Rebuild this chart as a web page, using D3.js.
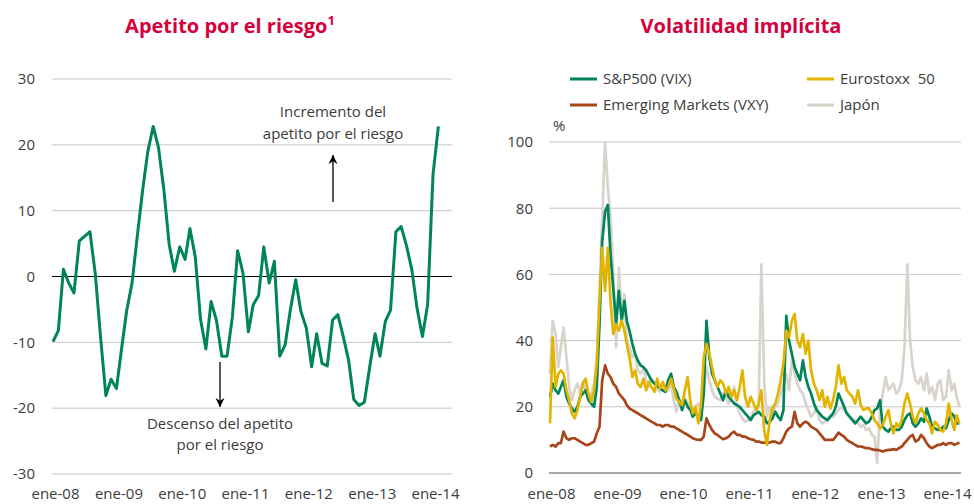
<!DOCTYPE html>
<html>
<head>
<meta charset="utf-8">
<script src="https://cdn.jsdelivr.net/npm/d3@7"></script>
<style>
  body { margin: 0; background: #fff; }
  svg text { font-family: "Open Sans", "Noto Sans", sans-serif; }
</style>
</head>
<body>
<div class="visContainer"></div>
<script>
// Apetito por el riesgo, monthly from ene-08 to feb-14.
const apetito = [
  -9.9, -8.2, 1.1, -1.0, -2.5, 5.4, 6.1, 6.8, 0.4, -9.1,
  -18.1, -15.6, -17.0, -10.7, -5.2, -1.0, 6.1, 13.1, 19.0, 22.8,
  19.5, 13.3, 4.9, 0.8, 4.5, 2.6, 7.3, 2.9, -6.5, -11.0,
  -3.8, -6.7, -12.1, -12.1, -6.1, 3.9, 0.5, -8.4, -4.3, -2.9,
  4.5, -1.0, 2.3, -12.1, -10.4, -5.1, -0.5, -5.3, -7.8, -13.7,
  -8.7, -13.2, -13.6, -6.6, -5.8, -9.1, -12.7, -18.7, -19.6, -19.1,
  -13.7, -8.7, -12.1, -6.8, -5.1, 6.8, 7.6, 4.7, 1.0, -4.8,
  -9.1, -4.3, 15.5, 22.8
];

// Volatilidad implicita, twice a month (day 1 and 16) from ene-08 to mar-14.
const vix = [
  23, 27, 25, 24, 26, 28, 23, 21, 19.5, 18.5,
  20, 23, 24, 25, 22, 21, 20, 26, 45, 70,
  79, 81, 66, 56, 45, 55, 46, 52, 46, 43,
  39, 36, 34, 32.5, 32, 31, 29.5, 28, 27, 26.5,
  25.5, 25, 24.5, 28, 30, 26, 24.5, 22, 19, 22,
  20, 19, 17, 18, 17, 16, 24, 46, 35, 30,
  28, 26, 24, 22, 25, 23, 22, 21, 20.5, 20,
  19, 18, 17, 16, 17.5, 18, 18.5, 17.5, 17, 15,
  15.5, 16.5, 18.5, 17, 16, 19, 47.5, 40, 36, 32,
  30, 28, 34, 29, 26, 24, 21, 19, 18, 17,
  16.5, 16, 17, 18, 20, 24, 22, 20, 18, 17,
  16, 15, 16, 17, 16, 15, 15.5, 17, 19, 19.5,
  22, 14, 13, 12.5, 13.5, 14, 13, 13, 14, 16,
  17.5, 18, 15, 14, 15, 16.5, 15.5, 19.5, 17, 14,
  13.5, 13, 13, 14, 13.5, 16, 18, 17, 15, 15
];
const eurostoxx = [
  15, 41, 26, 30, 31, 30, 25, 22, 18, 16.5,
  19, 23, 27, 28.5, 24, 21.5, 25, 33, 52, 68,
  55, 68, 52, 42, 45, 43, 46, 43, 39, 35,
  29, 31, 27, 26, 28.5, 25, 27.5, 26, 24.5, 28.5,
  25.5, 27.5, 25, 26, 28.5, 25.5, 22.5, 21.5, 20.5, 25,
  29, 21.5, 18, 20, 15, 21, 35, 39, 36, 32,
  28, 26, 28, 27, 24, 26, 23, 25, 22, 26,
  31, 23, 20, 23, 21, 19, 21, 25, 13, 8.5,
  16, 19.5, 21, 24, 28, 33, 43, 41, 46, 48,
  40, 38, 42, 36, 40, 31, 27, 25, 22, 25,
  20, 23, 19.5, 22, 26, 32.5, 27, 29, 25, 24,
  23, 21, 25, 20.5, 19, 19.5, 19.5, 18, 16, 15,
  13.5, 14.5, 17, 19, 15, 12, 15, 14, 16, 21,
  24, 21, 17, 15, 18, 19.5, 18, 16, 15, 12,
  15.5, 14.5, 13, 12.5, 15, 21, 16, 13, 17.5, 15
];
const vxy = [
  8, 8.5, 8, 9, 9, 12.5, 10.5, 10, 10.5, 10.5,
  10, 9.5, 9, 8.5, 8.5, 9, 9.5, 12, 14, 28,
  32.5, 30, 29, 27, 26, 24, 23, 22, 20.5, 19.5,
  19, 18.5, 18, 17.5, 17, 16.5, 16, 15.5, 15, 14.5,
  14.5, 14, 14.5, 14.5, 14, 14, 13.5, 13, 12.5, 12,
  11.5, 11, 10.5, 10.2, 10, 10, 11, 16.5, 14.5, 13,
  12, 11.5, 10.8, 10.2, 10.5, 11, 12, 12.5, 11.5, 11.5,
  11, 11, 10.5, 10.2, 10, 9.5, 9.5, 9.2, 9.2, 9.2,
  9.2, 9.5, 9.5, 9, 9, 10.5, 12.5, 13.5, 14, 18.5,
  15, 14, 15, 15.5, 15, 14, 13.5, 13, 12, 11,
  10, 10, 10, 10, 11, 12.2, 11.5, 11, 10, 9.5,
  9, 8.5, 8, 8, 7.8, 7.5, 7.5, 7.2, 7, 7,
  6.8, 6.5, 6.8, 7, 7, 7.2, 7, 7.5, 8, 9,
  10, 11, 11.5, 9.5, 10, 11.5, 10.5, 9, 8, 7.5,
  8, 8.5, 8.5, 9, 8.5, 9, 9, 8.5, 8.8, 9.2
];
const japon = [
  30, 46, 42, 32, 38, 44, 35, 26, 22, 25,
  27, 24, 27.5, 25, 23, 24, 27, 35, 55, 77,
  100, 86, 78, 60, 38, 62, 48, 54, 40, 38,
  35, 36, 31, 30, 31.5, 28, 26, 28.5, 27, 25.5,
  24.5, 27.5, 26, 25, 27.5, 22, 18.5, 22.5, 20.5, 23,
  21, 19.5, 18, 20, 21, 18, 25, 32, 28, 25,
  23, 22.5, 22, 24, 23, 21, 23, 26, 20, 18,
  16.5, 15.5, 16, 17, 18.5, 19.5, 20, 63, 27, 17,
  20, 18, 20, 21, 24, 27, 30, 25, 34, 30,
  27, 25, 24, 21, 19, 17, 18, 20, 16, 15,
  15.5, 16, 17.5, 17, 18, 19, 20, 19, 18, 17,
  16.5, 16, 15, 14, 14.5, 13, 13.5, 11.5, 11, 3,
  19, 24, 29, 25, 26, 27, 24, 25, 28, 38,
  63, 40, 32, 28, 27, 29, 25, 30, 24, 26,
  22, 27, 28, 22, 23, 31, 25, 27, 23, 20
];

const ticksLeft = [-30, -20, -10, 0, 10, 20, 30];
const ticksRight = [0, 20, 40, 60, 80, 100];
const years = [2008, 2009, 2010, 2011, 2012, 2013, 2014];

const seriesRight = [
  { name: 'Japón', values: japon, color: '#d8d3cb' },
  { name: 'Emerging Markets (VXY)', values: vxy, color: '#a6461a' },
  { name: 'S&P500 (VIX)', values: vix, color: '#00845a' },
  { name: 'Eurostoxx\u00a0\u00a050', values: eurostoxx, color: '#e2b400' }
];

// SVG constants.
const width = 974;
const height = 504;
const red = '#d5003c';
const txt = '#3c3c3c';
const tickLabel = y => 'ene-' + String(y).slice(2);

const svg = d3.select('.visContainer')
              .append('svg')
              .attr('width', width)
              .attr('height', height);

svg.append('defs').append('marker')
   .attr('id', 'arrow')
   .attr('viewBox', '0 0 10 10')
   .attr('refX', 10).attr('refY', 5)
   .attr('markerUnits', 'userSpaceOnUse')
   .attr('markerWidth', 9).attr('markerHeight', 14)
   .attr('orient', 'auto')
   .append('path')
   .attr('d', 'M0,0 L10,5 L0,10 L3,5 Z')
   .attr('fill', '#000');

// ---------- Left: Apetito por el riesgo ----------
const xL = d3.scaleTime().domain([new Date(2008, 0, 1), new Date(2014, 0, 1)]).range([53, 433]);
const yL = d3.scaleLinear().domain([-30, 30]).range([474, 79]);

svg.append('text')
   .attr('x', 230).attr('y', 33)
   .attr('text-anchor', 'middle')
   .attr('font-size', '20px').attr('font-weight', 'bold')
   .attr('fill', red)
   .text('Apetito por el riesgo')
   .append('tspan')
   .attr('dy', -8).attr('font-size', '13px')
   .text('1');

const left = svg.append('g');
left.selectAll('line.grid')
    .data(ticksLeft)
    .join('line')
    .attr('class', 'grid')
    .attr('x1', 52).attr('x2', 452)
    .attr('y1', d => yL(d)).attr('y2', d => yL(d))
    .attr('stroke', d => d === 0 ? '#000' : '#c6c6c6')
    .attr('stroke-width', d => d === 0 ? 1.2 : 1);

left.append('g')
    .attr('transform', 'translate(52,0)')
    .call(d3.axisLeft(yL).tickValues(ticksLeft).tickSize(0).tickPadding(17).tickFormat(d => String(d)))
    .call(g => g.select('.domain').remove())
    .call(g => g.selectAll('text').attr('font-size', 15).attr('fill', txt)
                .attr('font-family', '"Open Sans", sans-serif'));

left.append('g')
    .attr('transform', 'translate(2,499)')
    .call(d3.axisBottom(xL).tickValues(years.map(y => new Date(y, 0, 1)))
            .tickSize(0).tickPadding(0).tickFormat(d => tickLabel(d.getFullYear())))
    .call(g => g.select('.domain').remove())
    .call(g => g.selectAll('text').attr('dy', 0).attr('font-size', 15).attr('fill', txt)
                .attr('font-family', '"Open Sans", sans-serif'));

left.append('path')
    .datum(apetito)
    .attr('fill', 'none')
    .attr('stroke', '#00845a')
    .attr('stroke-width', 3)
    .attr('stroke-linejoin', 'round')
    .attr('d', d3.line().x((d, i) => xL(new Date(2008, i, 1))).y(d => yL(d)));

// annotations
const noteUp = left.append('text').attr('text-anchor', 'middle').attr('font-size', 15).attr('fill', txt);
noteUp.append('tspan').attr('x', 333).attr('y', 117).text('Incremento del');
noteUp.append('tspan').attr('x', 333).attr('y', 139).text('apetito por el riesgo');
left.append('line')
    .attr('x1', 333).attr('x2', 333).attr('y1', 202).attr('y2', 155)
    .attr('stroke', '#000').attr('stroke-width', 1.3)
    .attr('marker-end', 'url(#arrow)');

const noteDown = left.append('text').attr('text-anchor', 'middle').attr('font-size', 15).attr('fill', txt);
noteDown.append('tspan').attr('x', 220).attr('y', 429).text('Descenso del apetito');
noteDown.append('tspan').attr('x', 220).attr('y', 450).text('por el riesgo');
left.append('line')
    .attr('x1', 220).attr('x2', 220).attr('y1', 362).attr('y2', 407)
    .attr('stroke', '#000').attr('stroke-width', 1.3)
    .attr('marker-end', 'url(#arrow)');

// ---------- Right: Volatilidad implícita ----------
const xR = d3.scaleTime().domain([new Date(2008, 0, 1), new Date(2014, 0, 1)]).range([550, 946]);
const yR = d3.scaleLinear().domain([0, 100]).range([473, 142]);
const halfMonth = i => new Date(2008, Math.floor(i / 2), i % 2 ? 16 : 1);

svg.append('text')
   .attr('x', 741).attr('y', 33)
   .attr('text-anchor', 'middle')
   .attr('font-size', '20px').attr('font-weight', 'bold')
   .attr('fill', red)
   .text('Volatilidad implícita');

const right = svg.append('g');
right.selectAll('line.grid')
     .data(ticksRight)
     .join('line')
     .attr('class', 'grid')
     .attr('x1', 549).attr('x2', 961)
     .attr('y1', d => yR(d)).attr('y2', d => yR(d))
     .attr('stroke', d => d === 0 ? '#8c8c8c' : '#c6c6c6')
     .attr('stroke-width', d => d === 0 ? 1.4 : 1);

right.append('g')
     .attr('transform', 'translate(549,0)')
     .call(d3.axisLeft(yR).tickValues(ticksRight).tickSize(0).tickPadding(16).tickFormat(d => String(d)))
     .call(g => g.select('.domain').remove())
     .call(g => g.selectAll('text').attr('font-size', 15).attr('fill', txt)
                 .attr('font-family', '"Open Sans", sans-serif'));

right.append('g')
     .attr('transform', 'translate(1,499)')
     .call(d3.axisBottom(xR).tickValues(years.map(y => new Date(y, 0, 1)))
             .tickSize(0).tickPadding(0).tickFormat(d => tickLabel(d.getFullYear())))
     .call(g => g.select('.domain').remove())
     .call(g => g.selectAll('text').attr('dy', 0).attr('font-size', 15).attr('fill', txt)
                 .attr('font-family', '"Open Sans", sans-serif'));

right.append('text')
     .attr('x', 553).attr('y', 131)
     .attr('font-size', 15).attr('fill', txt)
     .text('%');

const lineR = d3.line().x((d, i) => xR(halfMonth(i))).y(d => yR(d));
right.selectAll('path.serie')
     .data(seriesRight)
     .join('path')
     .attr('class', 'serie')
     .attr('fill', 'none')
     .attr('stroke', d => d.color)
     .attr('stroke-width', 2.7)
     .attr('stroke-linejoin', 'round')
     .attr('d', d => lineR(d.values));

// legend
const legendItems = [
  { s: seriesRight[2], x: 570, y: 79 },
  { s: seriesRight[3], x: 807, y: 79 },
  { s: seriesRight[1], x: 570, y: 105 },
  { s: seriesRight[0], x: 807, y: 105 }
];
const legend = right.selectAll('g.legend')
                    .data(legendItems)
                    .join('g')
                    .attr('class', 'legend')
                    .attr('transform', d => `translate(${d.x},${d.y})`);
legend.append('line')
      .attr('x1', 0).attr('x2', 27)
      .attr('stroke', d => d.s.color)
      .attr('stroke-width', 3);
legend.append('text')
      .attr('x', 33).attr('dy', '0.35em')
      .attr('font-size', 15).attr('fill', txt)
      .text(d => d.s.name);
</script>
</body>
</html>
